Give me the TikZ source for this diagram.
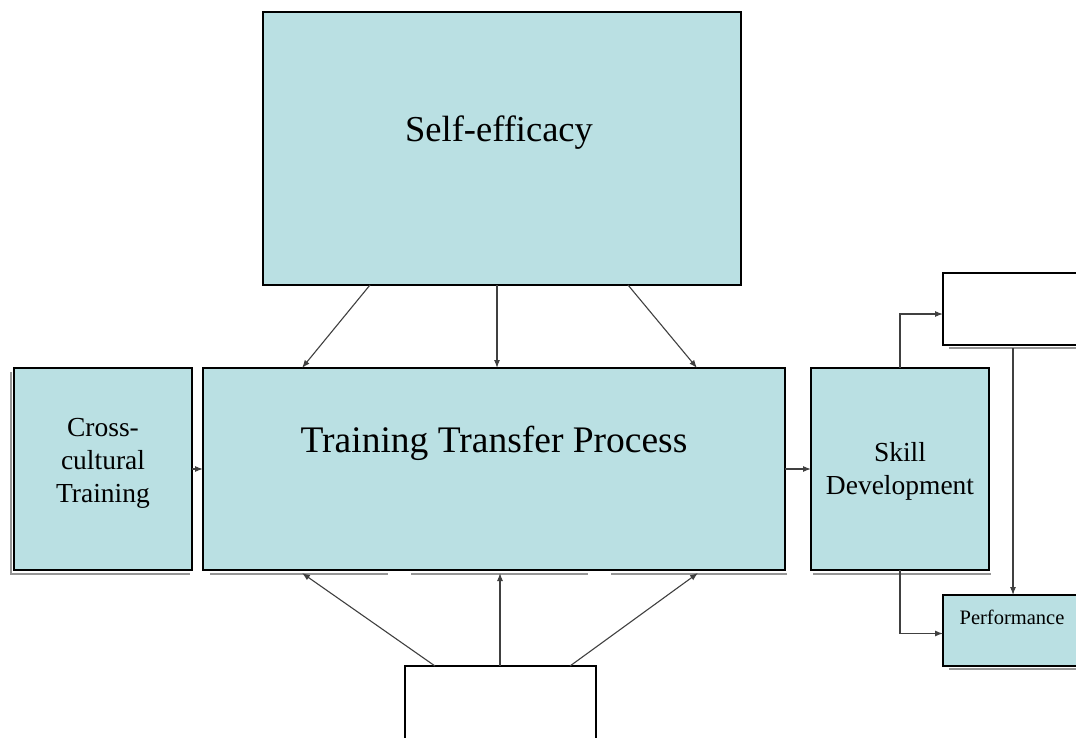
\documentclass[tikz,border=0pt]{standalone}
\usepackage{fontspec}
\setmainfont{Liberation Serif}
\usetikzlibrary{arrows.meta}
\definecolor{boxfill}{RGB}{186,224,227}
\definecolor{linkgray}{RGB}{64,64,64}
\definecolor{shadowgray}{RGB}{150,150,150}
\begin{document}
\begin{tikzpicture}[x=1pt,y=-1pt,
  box/.style={draw=black, line width=1.8pt, fill=boxfill, rectangle, anchor=north west, inner sep=0pt, outer sep=0pt},
  blank/.style={box, fill=white},
  label/.style={align=center, inner sep=0pt, text=black},
  link/.style={draw=linkgray, line width=1.1pt, -{Latex[length=8pt,width=6pt]}},
  shadowline/.style={draw=shadowgray, line width=1.4pt}
]
\useasboundingbox (0,0) rectangle (1076,738);
\clip (0,0) rectangle (1076,738);
\fill[white] (0,0) rectangle (1076,738);

% drop shadows under the boxes
\draw[shadowline] (11,372) -- (11,574) -- (190,574);
\draw[shadowline] (210,574) -- (388,574);
\draw[shadowline] (411,574) -- (588,574);
\draw[shadowline] (611,574) -- (787,574);
\draw[shadowline] (813,574) -- (991,574);
\draw[shadowline] (949,348) -- (1080,348);
\draw[shadowline] (949,669) -- (1080,669);

% boxes
\node[box, minimum width=478pt, minimum height=273pt] (self) at (263,12) {};
\node[box, minimum width=582pt, minimum height=202pt] (main) at (203,368) {};
\node[box, minimum width=178pt, minimum height=202pt] (cross) at (14,368) {};
\node[box, minimum width=178pt, minimum height=202pt] (skill) at (811,368) {};
\node[blank, minimum width=150pt, minimum height=72pt] (top) at (943,273) {};
\node[box, minimum width=150pt, minimum height=71pt] (perf) at (943,595) {};
\node[blank, minimum width=191pt, minimum height=90pt] (bottom) at (405,666) {};

% texts
\node[label, font=\fontsize{36.5}{40}\selectfont] (selftext) at (499,133) {Self-efficacy};
\node[label, font=\fontsize{37.5}{42}\selectfont] (maintext) at (494,443) {Training Transfer Process};
\node[label, font=\fontsize{27.5}{33}\selectfont] (crosstext) at (103,463) {Cross-\\cultural\\Training};
\node[label, font=\fontsize{27.5}{33}\selectfont] (skilltext) at (900,471) {Skill\\Development};
\node[label, font=\fontsize{20.5}{24}\selectfont] (perftext) at (1012,617) {Performance};

% connectors from self-efficacy
\draw[link] ([xshift=107pt]self.south west) -- ([xshift=99pt]main.north west);
\draw[link] ([xshift=-5pt]self.south) -- ([xshift=3pt]main.north);
\draw[link] ([xshift=365pt]self.south west) -- ([xshift=494pt]main.north west);

% connectors from the lower box
\draw[link] ([xshift=30pt]bottom.north west) -- ([xshift=99pt,yshift=-3pt]main.south west);
\draw[link] ([xshift=-0.5pt]bottom.north) -- ([xshift=6pt,yshift=-3pt]main.south);
\draw[link] ([xshift=165pt]bottom.north west) -- ([xshift=495pt,yshift=-3pt]main.south west);

% horizontal flow
\draw[link] (cross.east) -- (main.west);
\draw[link] (main.east) -- (skill.west);
\draw[link] (skill.north) |- ([yshift=-5pt]top.west);
\draw[link] (skill.south) |- ([yshift=-3pt]perf.west);
\draw[link] ([xshift=70pt,yshift=-3pt]top.south west) -- ([xshift=70pt]perf.north west);
\end{tikzpicture}
\end{document}
